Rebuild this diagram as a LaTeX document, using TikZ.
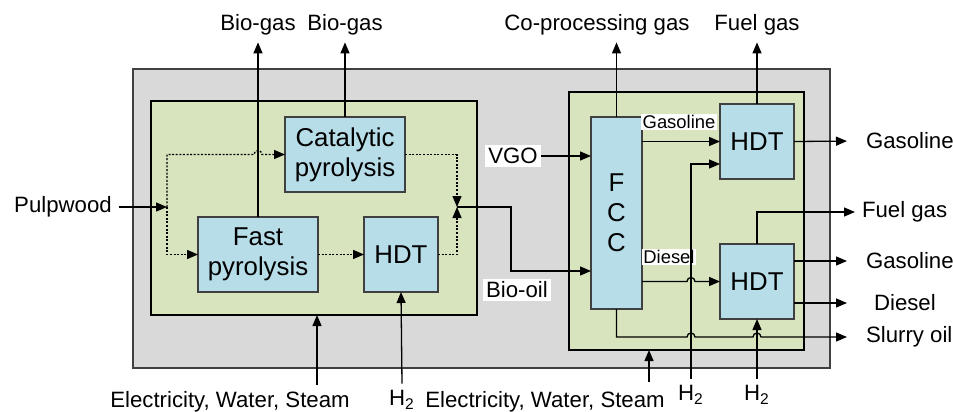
\documentclass[tikz,border=0pt]{standalone}
\usepackage{fontspec}
\setmainfont{Liberation Sans}
\usepackage{tikz}
\usetikzlibrary{arrows.meta, positioning, calc}
\definecolor{PlantGray}{RGB}{217, 217, 217}
\definecolor{ZoneGreen}{RGB}{215, 228, 189}
\definecolor{UnitBlue}{RGB}{183, 221, 232}
\definecolor{EdgeGray}{RGB}{64, 64, 64}
\tikzset{
  plant/.style={rectangle, draw=EdgeGray, line width=0.8pt, fill=PlantGray,
    inner sep=0pt, outer sep=0pt},
  zone/.style={rectangle, draw=black, line width=0.6pt, fill=ZoneGreen,
    inner sep=0pt, outer sep=0pt},
  proc/.style={rectangle, draw=EdgeGray, line width=0.6pt, fill=UnitBlue,
    inner sep=0pt, outer sep=0pt, align=center,
    font=\fontsize{12.9}{15}\selectfont},
  lbl/.style={font=\fontsize{11.1}{13}\selectfont},
  tag/.style={lbl, fill=white, inner sep=1.5pt},
  small/.style={fill=white, inner sep=0.8pt, font=\fontsize{9.2}{11}\selectfont},
  arr/.style={-{Triangle[length=5.5pt,width=4.5pt]}, line width=0.65pt},
  darr/.style={arr, dash pattern=on 1pt off 0.8pt},
}
\begin{document}
\begin{tikzpicture}[x=0.5pt, y=-0.5pt]
  \useasboundingbox (0,0) rectangle (953,412);
  % plant areas
  \node[plant, minimum width=348.5pt, minimum height=149.5pt] (site) at (481.5,218.5) {};
  \node[zone, minimum width=163pt, minimum height=107pt] (bio) at (314,208) {};
  \node[zone, minimum width=117.5pt, minimum height=129pt] (refin) at (686.5,221) {};
  % units
  \node[proc, minimum width=60pt, minimum height=37.5pt] (cat) at (345,154.5) {Catalytic\\pyrolysis};
  \node[proc, minimum width=60pt, minimum height=37.5pt] (fast) at (258,254.5) {Fast\\pyrolysis};
  \node[proc, minimum width=37pt, minimum height=37.5pt] (hdtL) at (401,254.5) {HDT};
  \node[proc, minimum width=25.5pt, minimum height=96pt] (fcc) at (616.5,213) {F\\C\\C};
  \node[proc, minimum width=37pt, minimum height=37.5pt] (hdtA) at (757,141.5) {HDT};
  \node[proc, minimum width=37pt, minimum height=37.5pt] (hdtB) at (757,281.5) {HDT};
  % streams in and out
  \node[lbl] (bg1) at (258,25) {Bio-gas};
  \node[lbl] (bg2) at (345,25) {Bio-gas};
  \node[lbl] (cpg) at (597,25) {Co-processing gas};
  \node[lbl] (fg1) at (757,25) {Fuel gas};
  \node[lbl] (pulp) at (63,207) {Pulpwood};
  \node[lbl, anchor=west] (gas1) at (859,141) {Gasoline};
  \node[lbl, anchor=west] (fg2) at (855,212) {Fuel gas};
  \node[lbl, anchor=west] (gas2) at (859,261) {Gasoline};
  \node[lbl, anchor=west] (dsl) at (867,303) {Diesel};
  \node[lbl, anchor=west] (slurry) at (859,337) {Slurry oil};
  \node[lbl] (elecL) at (230,402) {Electricity, Water, Steam};
  \node[lbl] (elecR) at (545,402) {Electricity, Water, Steam};
  \node[lbl] (h2a) at (402,400) {H\textsubscript{2}};
  \node[lbl] (h2b) at (691,395) {H\textsubscript{2}};
  \node[lbl] (h2c) at (757,395) {H\textsubscript{2}};
  \node[tag] (vgo) at (513,156) {VGO};
  \node[tag] (biooil) at (517,290) {Bio-oil};
  \node[small] (gtag) at (679,122) {Gasoline};
  \node[small] (dtag) at (669,257) {Diesel};
  \coordinate (split) at (167,207);
  \coordinate (mix) at (457,207);
  \coordinate (turn) at (511,271);
  \coordinate (uL) at (317,385);
  \coordinate (uR) at (649,382);
  % biomass side
  \draw[arr] (pulp.east) -- (split);
  \draw[darr] (split) |- ($(fast.north |- cat.west)+(-4,0)$)
    arc[start angle=180, end angle=0, radius=2pt] -- (cat.west);
  \draw[darr] (split) |- (fast.west);
  \draw[darr] (fast) -- (hdtL);
  \draw[darr] (cat.east) -| (mix);
  \draw[darr] (hdtL.east) -| (mix);
  \draw[arr] (fast.north) -- (bg1.south);
  \draw[arr] (cat.north) -- (bg2.south);
  \draw[arr] (h2a.north) -- (hdtL.south);
  \draw[arr] (uL) -- (uL |- bio.south);
  \draw[arr] (mix) -| (turn) -- (turn -| fcc.west);
  % refinery side
  \draw[arr] (vgo) -- (vgo -| fcc.west);
  \draw[arr] (fcc.north) -- (fcc.north |- cpg.south);
  \draw[arr] (hdtA.north) -- (fg1.south);
  \draw[arr] (fcc.east |- hdtA.west) -- (hdtA.west);
  \draw[arr] (h2b.north) |- ($(hdtA.west)+(0,22.5)$);
  \draw[arr, shorten >=6pt] (hdtA.east) -- (gas1.west);
  \draw[arr] (fcc.east |- hdtB.west) -- ($(h2b.north |- hdtB.west)+(-4,0)$)
    arc[start angle=180, end angle=0, radius=2pt] -- (hdtB.west);
  \draw[arr] (hdtB.north) |- (fg2.west);
  \draw[arr, shorten >=6pt] (gas2 -| hdtB.east) -- (gas2.west);
  \draw[arr, shorten >=10pt] (dsl -| hdtB.east) -- (dsl.west);
  \draw[arr, shorten >=6pt] (fcc.south) |- ($(h2b.north |- slurry)+(-4,0)$)
    arc[start angle=180, end angle=0, radius=2pt]
    -- ($(h2c.north |- slurry)+(-4,0)$)
    arc[start angle=180, end angle=0, radius=2pt] -- (slurry.west);
  \draw[arr] (h2c.north) -- (hdtB.south);
  \draw[arr] (uR) -- (uR |- refin.south);
\end{tikzpicture}
\end{document}
